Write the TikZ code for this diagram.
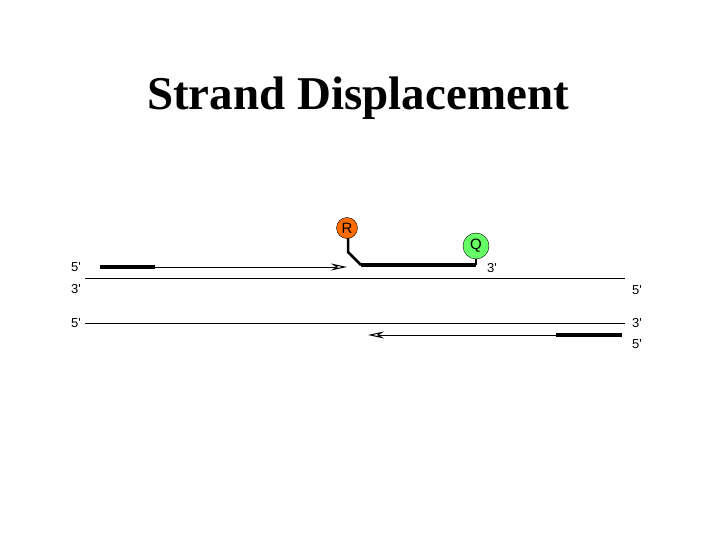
\documentclass[tikz,border=0pt]{standalone}
\usepackage{fontspec}
\setmainfont{Liberation Serif}
\newfontfamily\lab{Liberation Sans}
\usetikzlibrary{arrows.meta}
\begin{document}
\begin{tikzpicture}[x=1pt,y=-1pt,
 thin/.style={line width=1pt},
 thick/.style={line width=3.5pt},
 lbl/.style={font=\lab\fontsize{13}{13}\selectfont,inner sep=0pt},
 oarr/.style={line width=1pt,-{Stealth[open,length=16pt,width=7pt]}}]
\useasboundingbox (0,0) rectangle (720,540);
\node (title) at (358,98) {\fontsize{47}{47}\selectfont\bfseries Strand Displacement};
\node[lbl] (l1) at (76,267) {5'};
\node[lbl] (l2) at (76,289) {3'};
\node[lbl] (l3) at (76,323) {5'};
\node[lbl] (r1) at (637,290) {5'};
\node[lbl] (r2) at (637,323) {3'};
\node[lbl] (r3) at (637,344) {5'};
\node[lbl] (q3) at (492,268) {3'};
\coordinate (t1) at (85,278); \coordinate (t2) at (625,278);
\coordinate (b1) at (85,323); \coordinate (b2) at (625,323);
\draw[thin] (t1) -- (t2);
\draw[thin] (b1) -- (b2);
\coordinate (p1) at (100,267); \coordinate (p2) at (155,267);
\coordinate (p3) at (347,267);
\draw[thick] (p1) -- (p2);
\draw[oarr] (p2) -- (p3);
\coordinate (s1) at (556,335); \coordinate (s2) at (622,335);
\coordinate (s3) at (368,335);
\draw[thick] (s1) -- (s2);
\draw[oarr] (s1) -- (s3);
\coordinate (a) at (348,238); \coordinate (b) at (348,252); \coordinate (c) at (361,265);
\coordinate (d) at (476,265); \coordinate (e) at (476,253);
\draw[line width=2.5pt] (a) -- (b) -- (c);
\draw[thick] (c) -- (d);
\draw[line width=1.5pt] (d) -- (e);
\node[circle,draw,fill=orange!85!red,minimum size=21pt,inner sep=0pt,font=\lab\fontsize{15}{15}\selectfont] (R) at (347,228) {R};
\node[circle,draw,fill=green!60,minimum size=26pt,inner sep=0pt,font=\lab\fontsize{15}{15}\selectfont] (Q) at (476,246) {Q};
\end{tikzpicture}
\end{document}
